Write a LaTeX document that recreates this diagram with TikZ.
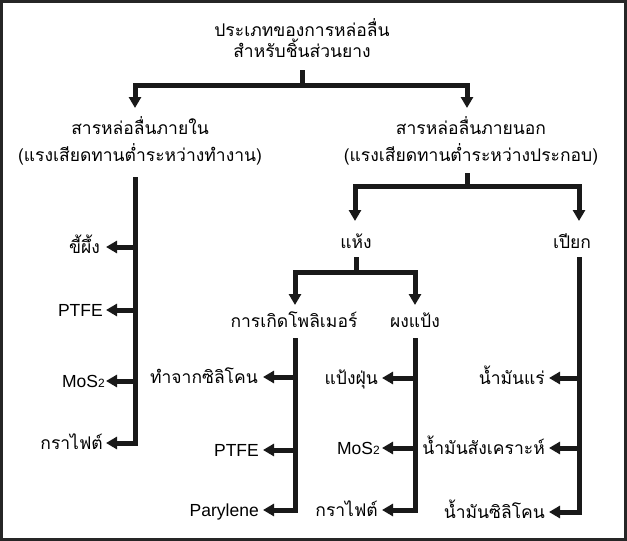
\documentclass[tikz,border=0pt]{standalone}
\usepackage{fontspec}
\setmainfont{Liberation Sans}
\newfontfamily\thai[Script=Thai]{Loma}
\usetikzlibrary{arrows.meta}
\tikzset{
  conn/.style={line width=5pt, black!90},
  arr/.style={conn, -{Triangle[length=11pt,width=12pt]}},
  lbl/.style={inner sep=0pt, font=\fontsize{17.5}{21}\selectfont},
  th/.style={lbl, font=\fontsize{17.5}{21}\selectfont\thai},
  frame/.style={line width=2.5pt, black!85}
}
\newcommand{\mosii}{MoS\raisebox{-0.5pt}{\fontsize{12}{12}\selectfont 2}}
\begin{document}
\begin{tikzpicture}[x=1pt,y=-1pt]
\useasboundingbox (0,0) rectangle (627,541);
\draw[frame] (1.5,1.5) rectangle (625.5,539.5);
% title
\node[th, anchor=base] (t1) at (302,36) {ประเภทของการหล่อลื่น};
\node[th, anchor=base] (t2) at (302,57) {สำหรับชิ้นส่วนยาง};
\coordinate (s0) at (302,70);
\coordinate (j0) at (302,85);
\coordinate (a1) at (135,108);
\coordinate (a2) at (467,108);
\draw[conn] (s0) -- (j0);
\draw[arr] (j0) -| (a1);
\draw[arr] (j0) -| (a2);
% inner
\node[th, anchor=base] (in1) at (140,134) {สารหล่อลื่นภายใน};
\node[th, anchor=base] (in2) at (140,161) {(แรงเสียดทานต่ำระหว่างทำงาน)};
% outer
\node[th, anchor=base] (out1) at (471,134) {สารหล่อลื่นภายนอก};
\node[th, anchor=base] (out2) at (471,161) {(แรงเสียดทานต่ำระหว่างประกอบ)};
% left group
\coordinate (L0) at (135,177);
\coordinate (L1) at (135,247); \coordinate (LT1) at (106,247);
\coordinate (L2) at (135,310); \coordinate (LT2) at (106,310);
\coordinate (L3) at (135,381); \coordinate (LT3) at (106,381);
\coordinate (L4) at (135,443); \coordinate (LT4) at (106,443);
\draw[arr] (L0) -- (L4) -- (LT4);
\draw[arr] (L1) -- (LT1);
\draw[arr] (L2) -- (LT2);
\draw[arr] (L3) -- (LT3);
\node[th, anchor=base east] (l1) at (100,253) {ขี้ผึ้ง};
\node[lbl, anchor=base east] (l2) at (103,316) {PTFE};
\node[lbl, anchor=base east] (l3) at (105,387) {\mosii};
\node[th, anchor=base east] (l4) at (103,449) {กราไฟต์};
% outer split
\coordinate (s1) at (467,173);
\coordinate (j1) at (467,186);
\coordinate (a3) at (355,221);
\coordinate (a4) at (579,221);
\draw[conn] (s1) -- (j1);
\draw[arr] (j1) -| (a3);
\draw[arr] (j1) -| (a4);
\node[th, anchor=base] (dry) at (356,248) {แห้ง};
\node[th, anchor=base] (wet) at (572,248) {เปียก};
% dry split
\coordinate (s2) at (356,257);
\coordinate (j2) at (356,272);
\coordinate (a5) at (295,305);
\coordinate (a6) at (415,305);
\draw[conn] (s2) -- (j2);
\draw[arr] (j2) -| (a5);
\draw[arr] (j2) -| (a6);
\node[th, anchor=base] (poly) at (294,327) {การเกิดโพลิเมอร์};
\node[th, anchor=base] (pow) at (415,327) {ผงแป้ง};
% polymer group
\coordinate (P0) at (295,338);
\coordinate (P1) at (295,377); \coordinate (PT1) at (263,377);
\coordinate (P2) at (295,450); \coordinate (PT2) at (263,450);
\coordinate (P3) at (295,510); \coordinate (PT3) at (263,510);
\draw[arr] (P0) -- (P3) -- (PT3);
\draw[arr] (P1) -- (PT1);
\draw[arr] (P2) -- (PT2);
\node[th, anchor=base east] (p1) at (258,383) {ทำจากซิลิโคน};
\node[lbl, anchor=base east] (p2) at (259,456) {PTFE};
\node[lbl, anchor=base east] (p3) at (259,516) {Parylene};
% powder group
\coordinate (W0) at (415,338);
\coordinate (W1) at (415,378); \coordinate (WT1) at (382,378);
\coordinate (W2) at (415,448); \coordinate (WT2) at (382,448);
\coordinate (W3) at (415,510); \coordinate (WT3) at (382,510);
\draw[arr] (W0) -- (W3) -- (WT3);
\draw[arr] (W1) -- (WT1);
\draw[arr] (W2) -- (WT2);
\node[th, anchor=base east] (w1) at (378,384) {แป้งฝุ่น};
\node[lbl, anchor=base east] (w2) at (380,454) {\mosii};
\node[th, anchor=base east] (w3) at (378,516) {กราไฟต์};
% wet group
\coordinate (E0) at (579,257);
\coordinate (E1) at (579,378); \coordinate (ET1) at (549,378);
\coordinate (E2) at (579,448); \coordinate (ET2) at (549,448);
\coordinate (E3) at (579,512); \coordinate (ET3) at (549,512);
\draw[arr] (E0) -- (E3) -- (ET3);
\draw[arr] (E1) -- (ET1);
\draw[arr] (E2) -- (ET2);
\node[th, anchor=base east] (e1) at (545,384) {น้ำมันแร่};
\node[th, anchor=base east] (e2) at (545,454) {น้ำมันสังเคราะห์};
\node[th, anchor=base east] (e3) at (545,518) {น้ำมันซิลิโคน};
\end{tikzpicture}
\end{document}
